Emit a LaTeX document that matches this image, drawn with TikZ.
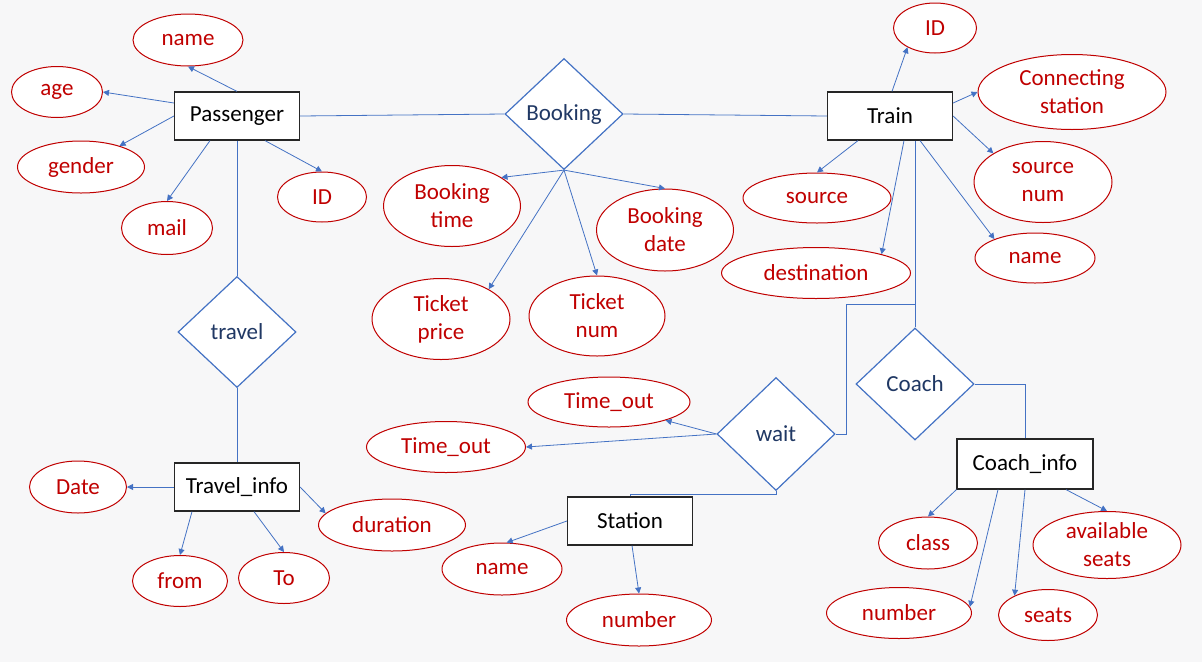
\documentclass[tikz,border=0pt]{standalone}
\usepackage{fontspec}
\setmainfont{Carlito}
\usepackage{xcolor}
\usepackage{tikz}
\usetikzlibrary{shapes.geometric, arrows.meta, positioning}

\definecolor{bgcol}{RGB}{247,247,248}
\definecolor{attrred}{RGB}{192,0,0}
\definecolor{relblue}{RGB}{68,114,196}
\definecolor{reltext}{RGB}{32,56,100}

\tikzset{
  entity/.style={draw=black!85, fill=white, line width=1.2pt, minimum width=125pt, minimum height=48pt, inner sep=0pt},
  attr/.style={ellipse, draw=attrred, fill=white, text=attrred, line width=1pt, inner sep=0pt, align=center},
  relation/.style={diamond, draw=relblue, fill=white, text=reltext, line width=1.2pt, minimum width=118pt, minimum height=111pt, inner sep=0pt},
  wire/.style={relblue, line width=0.8pt},
}

\begin{document}
\begin{tikzpicture}[x=1pt, y=-1pt, on grid, font=\fontsize{23}{28}\selectfont, >={Triangle[width=6pt,length=6pt]}]
        \fill[bgcol] (0,0) rectangle (1202,662);

        % entities
        \node[entity] (passenger) at (237,116) {Passenger};
        \node[entity] (train) at (890,116) {Train};
        \node[entity] (travelinfo) at (237,487) {Travel\_info};
        \node[entity] (station) at (630,521) {Station};
        \node[entity, minimum width=136pt, minimum height=50pt] (coachinfo) at (1025,464) {Coach\_info};

        % relations
        \node[relation] (booking) at (564,114) {Booking};
        \node[relation] (travel) at (237,332) {travel};
        \node[relation, minimum height=113pt] (wait) at (776,434) {wait};
        \node[relation, minimum height=112pt] (coach) at (915,384) {Coach};
        \coordinate (join) at ([yshift=23pt]coach.north);

        % attributes
        \node[attr, minimum width=110pt, minimum height=52pt] (pname) [above left=76pt and 49pt of passenger] {name};
        \node[attr, minimum width=91pt, minimum height=51pt] (age) [above left=24pt and 180pt of passenger] {age};
        \node[attr, minimum width=127pt, minimum height=52pt] (gender) [below left=51pt and 156pt of passenger] {gender};
        \node[attr, minimum width=91pt, minimum height=53pt] (mail) [below left=112pt and 70pt of passenger] {mail};
        \node[attr, minimum width=89pt, minimum height=50pt] (pid) [below right=81pt and 85pt of passenger] {ID};

        \node[attr, minimum width=137pt, minimum height=81pt] (btime) [below left=92pt and 112pt of booking] {Booking\\time};
        \node[attr, minimum width=137pt, minimum height=82pt] (bdate) [below right=116pt and 101pt of booking] {Booking\\date};
        \node[attr, minimum width=138pt, minimum height=81pt] (tprice) [below left=205pt and 123pt of booking] {Ticket\\price};
        \node[attr, minimum width=136pt, minimum height=80pt] (tnum) [below right=202pt and 33pt of booking] {Ticket\\num};

        \node[attr, minimum width=83pt, minimum height=50pt] (tid) [above right=88pt and 45pt of train] {ID};
        \node[attr, minimum width=188pt, minimum height=75pt] (connst) [above right=24pt and 182pt of train] {Connecting\\station};
        \node[attr, minimum width=138pt, minimum height=81pt] (srcnum) [below right=66pt and 153pt of train] {source\\num};
        \node[attr, minimum width=120pt, minimum height=50pt] (tname) [below right=142pt and 145pt of train] {name};
        \node[attr, minimum width=148pt, minimum height=50pt] (source) [below left=82pt and 73pt of train] {source};
        \node[attr, minimum width=189pt, minimum height=51pt] (dest) [below left=157pt and 74pt of train] {destination};

        \node[attr, minimum width=97pt, minimum height=52pt] (date) [left=159pt of travelinfo] {Date};
        \node[attr, minimum width=95pt, minimum height=51pt] (tifrom) [below left=94pt and 57pt of travelinfo] {from};
        \node[attr, minimum width=91pt, minimum height=51pt] (tito) [below right=91pt and 47pt of travelinfo] {To};
        \node[attr, minimum width=147pt, minimum height=52pt] (duration) [below right=38pt and 155pt of travelinfo] {duration};

        \node[attr, minimum width=162pt, minimum height=50pt] (toutA) [above left=32pt and 167pt of wait] {Time\_out};
        \node[attr, minimum width=159pt, minimum height=51pt] (toutB) [below left=13pt and 330pt of wait] {Time\_out};

        \node[attr, minimum width=120pt, minimum height=52pt] (sname) [below left=48pt and 128pt of station] {name};
        \node[attr, minimum width=145pt, minimum height=52pt] (snum) [below right=99pt and 9pt of station] {number};

        \node[attr, minimum width=99pt, minimum height=52pt] (class) [below left=79pt and 97pt of coachinfo] {class};
        \node[attr, minimum width=148pt, minimum height=67pt] (avail) [below right=81pt and 82pt of coachinfo] {available\\seats};
        \node[attr, minimum width=145pt, minimum height=51pt] (cnum) [below left=149pt and 126pt of coachinfo] {number};
        \node[attr, minimum width=99pt, minimum height=51pt] (seats) [below right=151pt and 23pt of coachinfo] {seats};

        % relationship lines
        \path[wire]
        (passenger.east) edge (booking.west)
        (booking.east) edge (train.west)
        (passenger.south) edge (travel.north)
        (travel.south) edge (travelinfo.north)
        (train.south -| coach.north) edge (coach.north);
        \draw[wire] (coach.east) -| (coachinfo.north);
        \draw[wire] (wait.east) -- ++(11,0) |- (join);
        \draw[wire] (wait.south) -- ++(0,3) -| (station.north);

        % attribute arrows
        \path[wire, ->]
        (passenger.north) edge (pname.south)
        ([yshift=13pt]passenger.west) edge (age.east)
        (passenger.west) edge (gender)
        ([xshift=-27pt]passenger.south) edge (mail.north)
        ([xshift=28pt]passenger.south) edge (pid.north)
        (booking.south) edge (btime.30)
        (booking.south) edge (bdate.north)
        (booking.south) edge (tprice.32)
        (booking.south) edge (tnum.north)
        ([xshift=2pt]train.north) edge (tid.215)
        ([yshift=13pt]train.east) edge (connst.west)
        (train.east) edge (srcnum.150)
        ([xshift=30pt]train.south) edge (tname.155)
        ([xshift=-32pt]train.south) edge (source.north)
        ([xshift=14pt]train.south) edge (dest.16)
        (travelinfo.west) edge (date.east)
        ([xshift=-45pt]travelinfo.south) edge (tifrom.north)
        ([xshift=17pt]travelinfo.south) edge (tito.north)
        (travelinfo.east) edge (duration.170)
        (wait.west) edge (toutA.342)
        (wait.west) edge (toutB.east)
        (station.west) edge (sname.80)
        ([xshift=2pt]station.south) edge (snum.north)
        (coachinfo.south west) edge (class.north)
        ([xshift=-27pt]coachinfo.south) edge (cnum.5)
        (coachinfo.south) edge (seats.150)
        ([xshift=41pt]coachinfo.south) edge (avail.north);
\end{tikzpicture}
\end{document}
